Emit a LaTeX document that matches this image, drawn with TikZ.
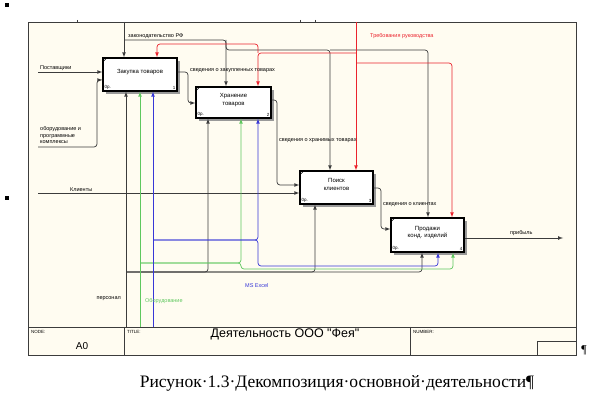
\documentclass[tikz,border=0pt]{standalone}
\usepackage{fontspec}
\setmainfont{Liberation Serif}
\newfontfamily\arial{Liberation Sans}
\usetikzlibrary{shadows}
\definecolor{paper}{RGB}{255,252,241}
\definecolor{mygreen}{RGB}{95,200,95}
\definecolor{myblue}{RGB}{55,55,215}
\definecolor{myred}{RGB}{235,35,45}
\definecolor{lines}{RGB}{60,60,60}

\begin{document}
\begin{tikzpicture}[x=1pt, y=-1pt,
	box/.style = {draw, line width=1.3pt, fill=white, inner sep=0pt, align=center, text depth=6pt,
		font=\arial\fontsize{6}{7.5}\selectfont,
		copy shadow={shadow xshift=3pt, shadow yshift=-3pt, fill=black!40, draw=none}},
	lbl/.style = {inner sep=0pt, font=\arial\fontsize{5.5}{6.5}\selectfont},
	tiny/.style = {inner sep=0pt, font=\arial\fontsize{4.5}{5}\selectfont},
	arr/.style = {line width=0.7pt, rounded corners=3pt, -latex}]

	\useasboundingbox (0,0) rectangle (590,401);

	% frame
	\fill [paper] (28,22) rectangle (576,355);
	\draw [line width=0.9pt, lines] (28,22) rectangle (576,355);
	\draw [line width=0.9pt, lines] (28,327) -- (576,327);
	\draw [lines] (124,327) -- (124,355);
	\draw [lines] (410,327) -- (410,355);
	\draw [lines] (537,355) |- (576,341);
	\draw [lines] (77,20) -- (77,22);
	\draw [lines] (300,20) -- (300,22);
	\draw [lines] (315,20) -- (315,22);
	\fill (5,3) rectangle (9,7);
	\fill (5,196) rectangle (9,200);

	% activities
	\node[box, minimum width=74pt, minimum height=33pt] (zak) at (140,74.5) {Закупка товаров};
	\node[box, minimum width=75pt, minimum height=31pt] (hran) at (233.5,102.5) {Хранение\\товаров};
	\node[box, minimum width=73pt, minimum height=33pt] (poisk) at (336.5,187.5) {Поиск\\клиентов};
	\node[box, minimum width=73pt, minimum height=34pt] (prod) at (427.5,235) {Продажи\\конд. изделий};

	\foreach \b/\n in {zak/1, hran/2, poisk/3, prod/4} {
		\node[tiny, anchor=south west] (\b-op) at ([xshift=2pt, yshift=2pt]\b.south west) {0р.};
		\node[tiny, anchor=south east] (\b-nr) at ([xshift=-2pt, yshift=2pt]\b.south east) {\n};
		\draw [line width=0.6pt] ([yshift=-5pt]\b.north west) -- ([xshift=5pt]\b.north west);
	}

	% free ends
	\coordinate (postav) at (38,72);
	\coordinate (oborud) at (38,147);
	\coordinate (klient) at (38,193);
	\coordinate (zakon) at (124,22);
	\coordinate (treb) at (356,22);
	\coordinate (pers) at (126,327);
	\coordinate (obor) at (140,327);
	\coordinate (excel) at (153,327);
	\coordinate (pribyl) at (563,238);

	% inputs
	\draw[arr, lines] (postav) -- (postav -| zak.west);
	\draw[arr, lines] (oborud) -| (97,80) -- (zak.west |- 0,80);
	\draw[arr, lines] (klient) -- (klient -| poisk.west);

	% controls
	\draw[arr, lines] (zakon) -- (zakon |- zak.north);
	\draw[arr, lines] (zakon |- 0,40) -| (226,0 |- hran.north);
	\draw[arr, lines] (226,40) |- (330,50) -- (330,0 |- poisk.north);
	\draw[arr, lines] (330,50) -| (428,0 |- prod.north);
	\draw[arr, myred] (treb) -- (treb |- poisk.north);
	\draw[arr, myred] (treb |- 0,53) -| (258,0 |- hran.north);
	\draw[arr, myred] (258,53) |- (157,44) -- (157,0 |- zak.north);
	\draw[arr, myred] (treb |- 0,63) -| (452,0 |- prod.north);

	% outputs
	\draw[arr, lines] (zak.east |- 0,72) -| (188,103) -- (hran.west |- 0,103);
	\draw[arr, lines] (hran.east |- 0,100) -| (277,185) -- (poisk.west |- 0,185);
	\draw[arr, lines] (poisk.east |- 0,188) -| (381,229) -- (prod.west |- 0,229);
	\draw[arr, lines] (prod.east |- 0,238) -- (pribyl);

	% mechanisms
	\draw[arr, lines] (pers) -- (pers |- zak.south);
	\draw[arr, lines] (pers |- 0,272) -| (208,0 |- hran.south);
	\draw[arr, lines] (pers |- 0,272) -| (315,0 |- poisk.south);
	\draw[arr, lines] (pers |- 0,272) -| (422,0 |- prod.south);
	\draw[arr, mygreen] (obor) -- (obor |- zak.south);
	\draw[arr, mygreen] (obor |- 0,263) -| (241,0 |- hran.south);
	\draw[arr, mygreen] (obor |- 0,263) -| (241,269) -| (453,0 |- prod.south);
	\draw[arr, myblue] (excel) -- (excel |- zak.south);
	\draw[arr, myblue] (excel |- 0,240) -| (258,0 |- hran.south);
	\draw[arr, myblue] (excel |- 0,240) -| (258,266) -| (438,0 |- prod.south);

	% arrow labels
	\node[lbl, anchor=south west] (postav-l) at (40,70.5) {Поставщики};
	\node[lbl, anchor=south west, align=left] (oborud-l) at (40,144) {оборудование и\\программные\\комплексы};
	\node[lbl, anchor=south west] (klient-l) at (70,191.5) {Клиенты};
	\node[lbl, anchor=west] (zakon-l) at (128,36) {законодательство РФ};
	\node[lbl, anchor=west, myred] (treb-l) at (370,36) {Требования руководства};
	\node[lbl, anchor=west] (sv1-l) at (190,71) {сведения о закупленных товарах};
	\node[lbl, anchor=west] (sv2-l) at (279,141) {сведения о хранимых товарах};
	\node[lbl, anchor=west] (sv3-l) at (383,205) {сведения о клиентах};
	\node[lbl, anchor=south west] (pribyl-l) at (510,236) {прибыль};
	\node[lbl, anchor=east] (pers-l) at (121,299) {персонал};
	\node[lbl, anchor=west, mygreen] (obor-l) at (145,301) {Оборудование};
	\node[lbl, anchor=west, myblue] (excel-l) at (245,286) {MS Excel};

	% title block
	\node[tiny, anchor=north west] (node-l) at (31,330) {NODE:};
	\node[inner sep=0pt, font=\arial\fontsize{10}{10}\selectfont] (nr) at (82,346) {A0};
	\node[tiny, anchor=north west] (title-l) at (127,330) {TITLE:};
	\node[inner sep=0pt, font=\arial\fontsize{12.5}{12.5}\selectfont] (title) at (285,334) {Деятельность ООО "Фея"};
	\node[tiny, anchor=north west] (number-l) at (413,330) {NUMBER:};
	\node[inner sep=0pt, font=\fontsize{12}{12}\selectfont] (pil) at (584,350) {¶};

	\node[inner sep=0pt, font=\fontsize{17.5}{17.5}\selectfont] (caption) at (337,383) {Рисунок·1.3·Декомпозиция·основной·деятельности¶};

\end{tikzpicture}
\end{document}
